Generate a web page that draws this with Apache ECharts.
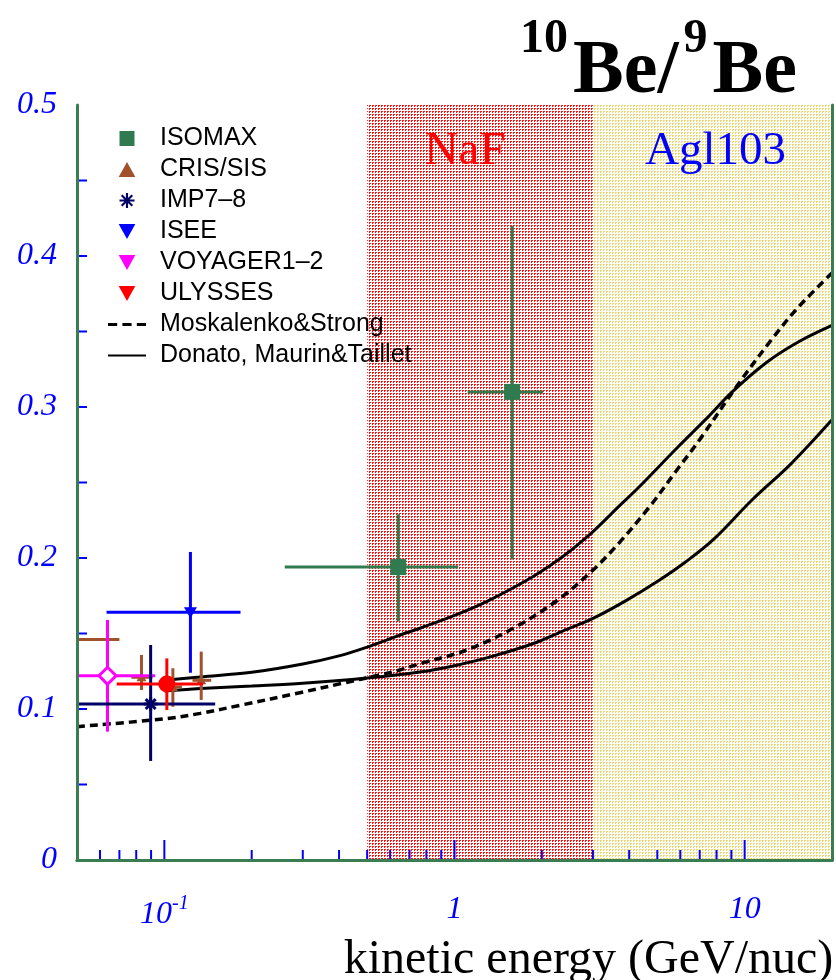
<!DOCTYPE html>
<html><head><meta charset="utf-8">
<script src="https://cdn.jsdelivr.net/npm/echarts@6/dist/echarts.min.js"></script>
<style>html,body{margin:0;padding:0;background:#fff}#c{width:836px;height:980px}</style>
</head><body><div id="c"></div><script>
// ---------------- data ----------------
const xMin = 0.05, xMax = 20, yMin = 0, yMax = 0.5, yStep = 0.1;
const xTickMinor = [0.06,0.07,0.08,0.09,0.2,0.3,0.4,0.5,0.6,0.7,0.8,0.9,2,3,4,5,6,7,8,9];
const xTickMajor = [0.1, 1, 10];
const yTickAll = [0.05,0.1,0.15,0.2,0.25,0.3,0.35,0.4,0.45];

// detector bands
const bandLo = [0.5, 3];
const bandHi = [3, 20];
const bandNames = ['NaF', 'Agl103'];

// ISOMAX
const isoE = [0.64, 1.58];
const isoV = [0.194, 0.310];
const isoELo = [0.26, 1.11];
const isoEHi = [1.03, 2.02];
const isoVLo = [0.158, 0.199];
const isoVHi = [0.229, 0.420];
// CRIS/SIS
const crisE = [0.047, 0.0834, 0.107, 0.134];
const crisV = [0.146, 0.121, 0.1146, 0.119];
const crisELo = [0.035, 0.077, 0.100, 0.125];
const crisEHi = [0.070, 0.091, 0.115, 0.145];
const crisVLo = [0.128, 0.1126, 0.1015, 0.106];
const crisVHi = [0.164, 0.1358, 0.127, 0.138];
// IMP7-8
const impE = [0.0897];
const impV = [0.1033];
const impELo = [0.04];
const impEHi = [0.1497];
const impVLo = [0.0656];
const impVHi = [0.1424];
// ISEE
const iseeE = [0.123];
const iseeV = [0.164];
const iseeELo = [0.0632];
const iseeEHi = [0.183];
const iseeVLo = [0.124];
const iseeVHi = [0.204];
// VOYAGER1-2
const voyE = [0.0637];
const voyV = [0.122];
const voyELo = [0.04];
const voyEHi = [0.093];
const voyVLo = [0.085];
const voyVHi = [0.159];
// ULYSSES
const ulyE = [0.102];
const ulyV = [0.1166];
const ulyELo = [0.0685];
const ulyEHi = [0.136];
const ulyVLo = [0.0993];
const ulyVHi = [0.1335];

// model curves
const moskE = [0.05,0.1,0.133,0.184,0.293,0.41,0.55,0.647,0.76,1.1,1.63,2.3,3.0,3.7,4.7,5.9,7.0,9.5,12.4,15.3,20];
const moskV = [0.0883,0.0935,0.0971,0.1026,0.1108,0.117,0.1225,0.1258,0.130,0.139,0.1545,0.173,0.192,0.2102,0.2339,0.2594,0.2784,0.3151,0.3448,0.366,0.3888];
const don1E = [0.1,0.133,0.2,0.3,0.4,0.5,0.65,0.76,1.0,1.3,1.86,2.4,3.0,3.7,4.3,5.9,7.5,9.0,11.8,15.3,20];
const don1V = [0.119,0.1212,0.1243,0.1298,0.1352,0.141,0.149,0.1535,0.162,0.1715,0.1876,0.202,0.2175,0.2345,0.2465,0.2737,0.2936,0.3095,0.329,0.343,0.354];
const don2E = [0.1,0.133,0.2,0.3,0.5,0.76,1.0,1.3,1.86,2.4,3.0,3.9,5.06,6.27,7.83,10.6,14.5,20];
const don2V = [0.112,0.1135,0.1152,0.117,0.1205,0.1245,0.1287,0.134,0.1432,0.1522,0.160,0.1718,0.1851,0.1975,0.2125,0.2384,0.2627,0.2915];

// ---------------- styles ----------------
const GREEN = '#3a7d52', ISO = '#2f7b4f', BROWN = '#a0522d', NAVY = '#000066', BLUE = '#0000ff', MAG = '#ff00ff', RED = '#ff0000';
const SERIF = '"Liberation Serif","Times New Roman",serif';
const SANS = '"Liberation Sans",Arial,sans-serif';

function makePattern(color) {
  const c = document.createElement('canvas'); c.width = 3; c.height = 3;
  const g = c.getContext('2d'); g.fillStyle = '#fff'; g.fillRect(0,0,3,3);
  g.fillStyle = color; g.fillRect(0,0,2,1); g.fillRect(0,1,1,1);
  return c;
}
const bandFills = [makePattern('#ff1010'), makePattern('#ecd870')];
const bandTextColors = [RED, BLUE];

const zip = (a, b) => a.map((v, i) => [v, b[i]]);

function marker(type, x, y, s, color) {
  const h = s / 2;
  switch (type) {
    case 'square': return {type:'rect', shape:{x:x-h, y:y-h, width:s, height:s}, style:{fill:color}};
    case 'circle': return {type:'circle', shape:{cx:x, cy:y, r:h}, style:{fill:color}};
    case 'diamond': return {type:'polygon', shape:{points:[[x,y-h],[x+h,y],[x,y+h],[x-h,y]]}, style:{fill:'#fff', stroke:color, lineWidth:3}};
    case 'triDown': return {type:'polygon', shape:{points:[[x-h,y-h*0.8],[x+h,y-h*0.8],[x,y+h*0.9]]}, style:{fill:color}};
    case 'triUp': return {type:'polygon', shape:{points:[[x-h,y+h*0.8],[x+h,y+h*0.8],[x,y-h*0.9]]}, style:{fill:color}};
    case 'star': {
      const ch = [];
      for (let k = 0; k < 4; k++) {
        const a = k * Math.PI / 4;
        ch.push({type:'line', shape:{x1:x-h*Math.cos(a), y1:y-h*Math.sin(a), x2:x+h*Math.cos(a), y2:y+h*Math.sin(a)}, style:{stroke:color, lineWidth:3}});
      }
      return {type:'group', children: ch};
    }
  }
}

function pointSeries(name, E, V, ELo, EHi, VLo, VHi, mk, color, size) {
  return {
    name, type:'custom', coordinateSystem:'cartesian2d', clip:true, z:4,
    itemStyle:{color},
    encode:{x:0, y:1},
    data: E.map((e, i) => [e, V[i], ELo[i], EHi[i], VLo[i], VHi[i]]),
    renderItem: (params, api) => {
      const c = api.coord([api.value(0), api.value(1)]);
      const xl = api.coord([api.value(2), api.value(1)])[0];
      const xh = api.coord([api.value(3), api.value(1)])[0];
      const yl = api.coord([api.value(0), api.value(4)])[1];
      const yh = api.coord([api.value(0), api.value(5)])[1];
      const ls = {stroke:color, lineWidth:3};
      return {type:'group', children:[
        {type:'line', shape:{x1:xl, y1:c[1], x2:xh, y2:c[1]}, style:ls},
        {type:'line', shape:{x1:c[0], y1:yl, x2:c[0], y2:yh}, style:ls},
        marker(mk, c[0], c[1], size, color)
      ]};
    }
  };
}

const SQ = 'path://M0,0L10,0L10,10L0,10Z';
const TUP = 'path://M5,0L10,9L0,9Z';
const TDN = 'path://M0,0L10,0L5,9Z';
const STAR = 'path://M-1,-7L1,-7L1,7L-1,7Z M-7,-1L7,-1L7,1L-7,1Z M4.243,-5.657L5.657,-4.243L-4.243,5.657L-5.657,4.243Z M-5.657,-4.243L-4.243,-5.657L5.657,4.243L4.243,5.657Z';
const DASHICON = 'path://M0,0h7v2.2h-7z M11,0h7v2.2h-7z M22,0h7v2.2h-7z';
const LINEICON = 'path://M0,0h38v2.2h-38z';

const chart = echarts.init(document.getElementById('c'), null, {renderer:'canvas', width:836, height:980});

const option = {
  animation: false,
  backgroundColor: '#fff',
  title: [{
    text: '{s|10}{b|Be/}{s|9}{b|Be}',
    right: 36, top: 16, padding: 0,
    textStyle: {rich: {
      b: {fontFamily: SERIF, fontSize: 76, color: '#000', lineHeight: 112, padding: [0, 3, 0, 3]},
      s: {fontFamily: SERIF, fontSize: 48, color: '#000', lineHeight: 48, verticalAlign: 'top', padding: [0, 2, 0, 2]}
    }}
  }],
  legend: {
    data: [
      {name:'ISOMAX', icon: SQ}, {name:'CRIS/SIS', icon: TUP}, {name:'IMP7–8', icon: STAR},
      {name:'ISEE', icon: TDN}, {name:'VOYAGER1–2', icon: TDN}, {name:'ULYSSES', icon: TDN},
      {name:'Moskalenko&Strong', icon: DASHICON}, {name:'Donato, Maurin&Taillet', icon: LINEICON}
    ],
    orient: 'vertical', left: 108, top: 126, padding: 0,
    itemWidth: 38, itemHeight: 15, itemGap: 6,
    selectedMode: false,
    formatter: n => '{p|}' + n,
    textStyle: {fontFamily: SANS, fontSize: 25, color: '#000', rich: {p: {width: 9}}}
  },
  grid: {left: 77, top: 105, width: 755, height: 755, containLabel: false, outerBoundsMode: 'none'},
  xAxis: [{
    type: 'log', logBase: 10, min: xMin, max: xMax, z: 6,
    axisLine: {show: true, onZero: false, lineStyle: {color: GREEN, width: 3}},
    axisTick: {show: false}, splitLine: {show: false},
    axisLabel: {
      margin: 34, color: BLUE, fontFamily: SERIF, fontStyle: 'italic', fontSize: 32,
      showMinLabel: true, showMaxLabel: true,
      formatter: v => {
        const l = Math.log10(v), r = Math.round(l);
        if (Math.abs(l - r) > 1e-6) return '';
        if (r === -1) return '{b|10}{s|-1}';
        if (r === 0) return '1';
        if (r === 1) return '10';
        return '';
      },
      rich: {
        b: {color: BLUE, fontFamily: SERIF, fontStyle: 'italic', fontSize: 32},
        s: {color: BLUE, fontFamily: SERIF, fontStyle: 'italic', fontSize: 20, padding: [0,0,22,0]}
      }
    },
    name: 'kinetic energy (GeV/nuc)', nameLocation: 'middle', nameGap: 60,
    nameTextStyle: {fontFamily: SERIF, fontSize: 48, color: '#000', align: 'center', verticalAlign: 'top', padding: [0,0,0,268]}
  }, {
    type: 'log', logBase: 10, min: xMin, max: xMax, position: 'top', z: 6,
    axisLine: {show: true, lineStyle: {color: GREEN, width: 3}},
    axisTick: {show: false}, axisLabel: {show: false}, splitLine: {show: false}
  }],
  yAxis: [{
    type: 'value', min: yMin, max: yMax, interval: yStep, z: 6,
    axisLine: {show: true, onZero: false, lineStyle: {color: GREEN, width: 3}},
    axisTick: {show: false}, splitLine: {show: false},
    axisLabel: {margin: 20, color: BLUE, fontFamily: SERIF, fontStyle: 'italic', fontSize: 32,
      formatter: v => v === 0 ? '0' : v.toFixed(1)}
  }, {
    type: 'value', min: yMin, max: yMax, interval: yStep, position: 'right', z: 6,
    axisLine: {show: true, lineStyle: {color: GREEN, width: 3}},
    axisTick: {show: false}, axisLabel: {show: false}, splitLine: {show: false}
  }],
  series: [
    {
      name: 'bands', type: 'custom', coordinateSystem: 'cartesian2d', z: 1, silent: true,
      encode: {x: [0, 1], y: [2, 3]},
      data: bandLo.map((lo, i) => [lo, bandHi[i], yMin, yMax]),
      renderItem: (params, api) => {
        const i = params.dataIndex;
        const p0 = api.coord([api.value(0), api.value(3)]);
        const p1 = api.coord([api.value(1), api.value(2)]);
        const cx = api.coord([Math.sqrt(api.value(0) * api.value(1)), api.value(3)])[0];
        return {type: 'group', children: [
          {type: 'rect', shape: {x: p0[0], y: p0[1], width: p1[0] - p0[0], height: p1[1] - p0[1]},
           style: {fill: {image: bandFills[i], repeat: 'repeat'}}},
          {type: 'text', style: {text: bandNames[i], x: cx - (i === 0 ? 15 : -3), y: p0[1] + 47,
            textAlign: 'center', textVerticalAlign: 'middle', fill: bandTextColors[i],
            font: '47px ' + SERIF}}
        ]};
      }
    },
    {
      name: 'xticks', type: 'custom', coordinateSystem: 'cartesian2d', z: 5, silent: true,
      encode: {x: 0, y: 1},
      data: xTickMinor.map(t => [t, yMin, 0]).concat(xTickMajor.map(t => [t, yMin, 1])),
      renderItem: (params, api) => {
        const p = api.coord([api.value(0), api.value(1)]);
        const len = api.value(2) ? 20 : 10;
        return {type: 'line', shape: {x1: p[0], y1: p[1], x2: p[0], y2: p[1] - len}, style: {stroke: BLUE, lineWidth: 2}};
      }
    },
    {
      name: 'yticks', type: 'custom', coordinateSystem: 'cartesian2d', z: 5, silent: true,
      encode: {x: 0, y: 1},
      data: yTickAll.map(t => [xMin, t]),
      renderItem: (params, api) => {
        const p = api.coord([api.value(0), api.value(1)]);
        return {type: 'line', shape: {x1: p[0], y1: p[1], x2: p[0] + 10, y2: p[1]}, style: {stroke: BLUE, lineWidth: 2}};
      }
    },
    {name: 'Moskalenko&Strong', type: 'line', data: zip(moskE, moskV), symbol: 'none', smooth: 0.35, z: 3,
      itemStyle: {color: '#000'}, lineStyle: {color: '#000', width: 3.5, type: [8, 5]}},
    {name: 'Donato, Maurin&Taillet', type: 'line', data: zip(don1E, don1V), symbol: 'none', smooth: 0.35, z: 3,
      itemStyle: {color: '#000'}, lineStyle: {color: '#000', width: 3}},
    {name: 'Donato, Maurin&Taillet', type: 'line', data: zip(don2E, don2V), symbol: 'none', smooth: 0.35, z: 3,
      itemStyle: {color: '#000'}, lineStyle: {color: '#000', width: 3}},
    pointSeries('ISOMAX', isoE, isoV, isoELo, isoEHi, isoVLo, isoVHi, 'square', ISO, 16),
    pointSeries('CRIS/SIS', crisE, crisV, crisELo, crisEHi, crisVLo, crisVHi, 'triUp', BROWN, 10),
    pointSeries('ISEE', iseeE, iseeV, iseeELo, iseeEHi, iseeVLo, iseeVHi, 'triDown', BLUE, 13),
    pointSeries('VOYAGER1–2', voyE, voyV, voyELo, voyEHi, voyVLo, voyVHi, 'diamond', MAG, 17),
    pointSeries('IMP7–8', impE, impV, impELo, impEHi, impVLo, impVHi, 'star', NAVY, 14),
    pointSeries('ULYSSES', ulyE, ulyV, ulyELo, ulyEHi, ulyVLo, ulyVHi, 'circle', RED, 17)
  ]
};
chart.setOption(option);
</script></body></html>
